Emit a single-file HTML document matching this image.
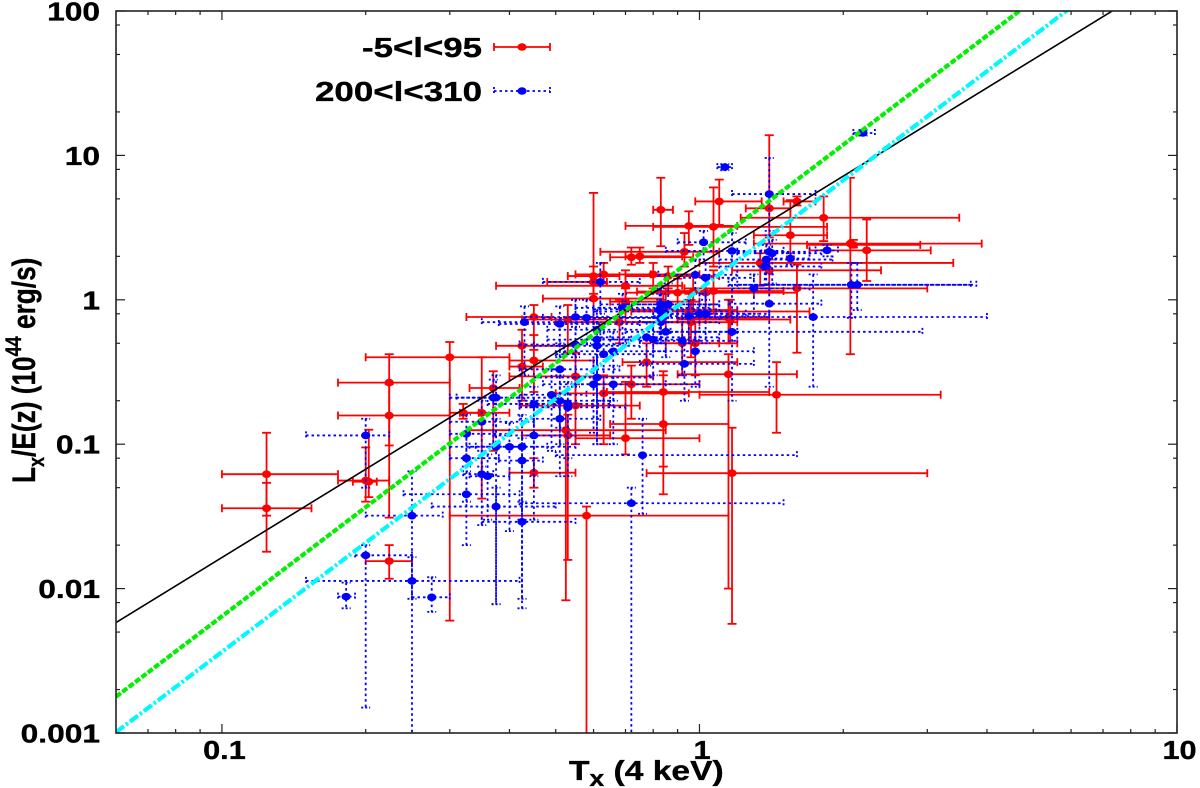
<!DOCTYPE html>
<html lang="en">
<head>
<meta charset="utf-8">
<title>Lx/E(z) versus Tx scatter plot</title>
<style>
html,body{margin:0;padding:0;background:#fff;}
svg{display:block;}
text{font-family:"Liberation Sans",sans-serif;font-weight:bold;fill:#000;stroke:#000;stroke-width:0.35;}
</style>
</head>
<body>
<svg id="chart" xmlns="http://www.w3.org/2000/svg" width="1200" height="788" viewBox="0 0 1200 788">
  <defs><clipPath id="plot-clip"><rect x="116" y="11" width="1061" height="722"/></clipPath></defs>
  <rect x="0" y="0" width="1200" height="788" fill="#fff"/>
  <g id="ticks"></g>
  <g id="tick-labels"></g>
  <g id="marks" clip-path="url(#plot-clip)"></g>
  <rect x="116" y="11" width="1061" height="722" fill="none" stroke="#222" stroke-width="1.6"/>
  <text transform="translate(35,483) rotate(-90) scale(0.82,1)" font-size="32">L<tspan font-size="22" dy="9">x</tspan><tspan dy="-9">/E(z) (10</tspan><tspan font-size="22" dy="-14">44</tspan><tspan dy="14"> erg/s)</tspan></text>
  <text transform="translate(569,780) scale(1.2,1)" font-size="28">T<tspan font-size="22" dy="6">x</tspan><tspan dy="-6"> (4 keV)</tspan></text>
  <g>
    <text x="482" y="57" text-anchor="end" font-size="28" textLength="120" lengthAdjust="spacingAndGlyphs">-5&lt;l&lt;95</text>
    <text x="482" y="101" text-anchor="end" font-size="28" textLength="167" lengthAdjust="spacingAndGlyphs">200&lt;l&lt;310</text>
    <g stroke="#ff0000" stroke-width="1.8" fill="#ff0000">
      <line x1="494" y1="47" x2="550" y2="47"/><line x1="494" y1="43" x2="494" y2="51"/><line x1="550" y1="43" x2="550" y2="51"/>
      <ellipse cx="522" cy="47" rx="4.6" ry="3.8" stroke="none"/>
    </g>
    <g stroke="#0000ff" stroke-width="1.8" fill="#0000ff">
      <line x1="494" y1="91" x2="550" y2="91" stroke-dasharray="2.5,3"/><line x1="494" y1="87" x2="494" y2="95" stroke-dasharray="2,2"/><line x1="550" y1="87" x2="550" y2="95" stroke-dasharray="2,2"/>
      <ellipse cx="522" cy="91" rx="4.6" ry="3.8" stroke="none"/>
    </g>
  </g>
</svg>
<script>
// Tick values
const xMajorTicks = [0.1, 1, 10];
const xMinorTicks = [0.07, 0.08, 0.09, 0.2, 0.3, 0.4, 0.5, 0.6, 0.7, 0.8, 0.9, 2, 3, 4, 5, 6, 7, 8, 9];
const xTickLabels = ["0.1", "1", "10"];
const yMajorTicks = [0.001, 0.01, 0.1, 1, 10, 100];
const yMinorTicks = [0.002, 0.005, 0.008, 0.02, 0.05, 0.08, 0.2, 0.5, 0.8, 2, 5, 8, 20, 50, 80];
const yTickLabels = ["0.001", "0.01", "0.1", "1", "10", "100"];

// Axis domain
const xDomain = [0.06, 10];
const yDomain = [0.001, 100];

// Red series (-5<l<95): temperature, luminosity and error bar limits
const redT    = [.124,.124,.224,.224,.3,.2,.203,.224,.32,.35,.37,.425,.425,.45,.45,.53,.55,.6,.6,.63,.6,.7,.7,.72,.75,.8,.86,.93,.9,.97,1.03,1.07,.92,.98,.775,1.15,1.15,.72,.84,.63,.55,.525,.53,.7,.84,.45,.58,1.17,1.45,.83,.95,1.07,1.1,1.4,1.6,1.55,1.82,2.07,2.1,2.24,1.6,1.34,1.4,.85,.68,.95,.96,1.16];
const redL    = [.062,.036,.267,.158,.4,.056,.055,.0155,.165,.165,.245,.48,.345,.38,.76,.73,.295,1.46,1.02,1.5,1.33,1.25,.97,1.97,2,1.5,1.46,2.15,1.12,1.14,1.12,1.15,.5,.5,.37,.305,.75,.26,.23,.225,.185,.125,.115,.11,.138,.0635,.032,.063,.22,4.2,3.25,3.2,4.8,4.3,4.8,2.8,3.7,2.45,2.4,2.2,1.2,1.8,1.6,.85,.7,.83,.7,.73];
const redTLo  = [.1,.1,.175,.175,.2,.175,.188,.2,.315,.3,.33,.375,.4,.4,.325,.425,.4,.53,.47,.55,.48,.375,.65,.65,.7,.62,.7,.62,.7,.74,.85,.8,.8,.85,.69,.9,.9,.6,.64,.5,.42,.33,.425,.55,.65,.4,.3,.775,1,.8,.7,.8,.98,1.25,1.5,1.3,1.22,1.3,1.68,1.7,.93,1,1.17,.7,.5,.72,.68,.9];
const redTHi  = [.175,.154,.3,.3,.4,.224,.211,.25,.345,.4,.42,.55,.47,.6,.49,.64,.8,.68,.84,.79,.64,.92,1,.97,.92,1,1.1,1.1,1.3,1.4,1.6,1.5,1.2,1.1,1.2,1.6,1.4,1,1.4,.95,.75,.85,.65,1,1.15,.55,1.15,3,3.2,.88,1.2,1.85,1.35,1.55,1.75,1.85,3.5,3.9,2.9,3.05,3,3.4,2.4,1.2,1,1.7,1.2,1.55];
const redLLo  = [.032,.018,.098,.031,.006,.04,.043,.0117,.15,.042,.09,.35,.2,.23,.45,.43,.19,1.1,.7,1.3,1,.95,.7,1.75,1.8,1.2,1.2,1.7,.7,.85,.7,.8,.3,.3,.25,.01,.5,.15,.07,.1,.1,.0083,.0158,.085,.045,.05,.0004,.0057,.12,2.35,2.4,1.7,3.3,2.7,4.5,2,2.55,.42,2.3,1.35,.43,1.25,1.2,.6,.5,.5,.4,.5];
const redLHi  = [.12,.054,.42,.26,.51,.095,.126,.02,.19,.4,.32,.62,.48,.57,.92,.92,.43,5.5,1.3,1.8,1.7,1.6,1.2,2.3,2.3,1.8,1.7,2.9,1.4,1.5,1.4,1.6,.7,.7,.5,.42,1,.35,.32,.3,.26,.2,.16,.27,.3,.08,.037,.13,.37,7,4.1,6,6.8,13.8,5.2,4.9,5.2,7,2.6,3.6,1.75,2.1,1.9,1.1,1,1.1,1,1];

// Blue series (200<l<310): temperature, luminosity and error bar limits
const blueT   = [.2,.2,.25,.25,.275,.182,.325,.325,.325,.35,.35,.36,.375,.375,.375,.4,.425,.425,.425,.45,.43,.51,.55,.58,.69,.62,.825,.83,.83,.86,.83,.83,.85,.92,.98,1.03,.95,1,1.03,.98,.93,1.17,.775,.8,.61,.61,.61,.55,.66,.63,.51,.61,.6,.66,.37,.49,.51,.53,.53,.45,.51,.76,.72,1.4,1.13,2.2,1.02,1.17,1.4,1.42,1.38,1.37,1.85,1.55,2.08,2.14,1.3,1.4,1.73];
const blueL   = [.115,.017,.032,.0113,.0087,.0088,.118,.08,.045,.143,.062,.06,.21,.096,.037,.096,.096,.077,.029,.115,.7,.68,.76,.75,.88,1.33,.86,.93,.83,.93,.75,.7,.6,.52,1.49,1.42,.77,.8,.8,.44,.36,.6,.55,.53,.62,.53,.48,.49,.44,.42,.33,.29,.26,.26,.21,.22,.2,.19,.18,.19,.15,.084,.039,5.4,8.3,14.3,2.5,2.18,2.15,2.1,1.9,1.7,2.2,1.93,1.27,1.27,1.2,.94,.76];
const blueTLo = [.15,.19,.2,.15,.25,.175,.3,.3,.24,.3,.32,.33,.3,.3,.275,.34,.33,.38,.35,.37,.35,.38,.43,.47,.55,.47,.6,.62,.6,.7,.6,.65,.7,.75,.82,.9,.8,.85,.87,.8,.75,.87,.62,.65,.48,.48,.45,.42,.52,.5,.42,.45,.47,.55,.31,.42,.42,.42,.42,.36,.42,.5,.42,1.17,1.09,2.1,.9,.85,1.2,1.2,1.1,1.1,1.75,1.4,1.15,1.2,1.17,1.15,.95];
const blueTHi = [.224,.25,.29,.42,.3,.19,.4,.38,.42,.45,.37,.4,.5,.43,.5,.48,.55,.47,.55,.55,.6,.75,.8,.85,1.05,.75,1.1,1.1,1.2,1.1,1.2,1.1,1.2,1.2,1.2,1.3,1.4,1.25,1.4,1.3,1.3,2.93,1.1,1,.8,.72,.75,.7,.85,.8,.68,.8,.85,1,.43,.58,.65,.65,.7,.5,.62,1.6,1.5,1.75,1.17,2.33,1.25,1.5,1.7,1.8,1.9,1.8,1.95,1.7,3.8,3.7,1.7,1.8,4];
const blueLLo = [.05,.0015,.0008,.0085,.0069,.0073,.07,.04,.02,.07,.0275,.03,.1,.0078,.0078,.025,.0085,.03,.0073,.03,.3,.4,.4,.5,.5,.8,.5,.5,.6,.7,.5,.5,.4,.3,1.1,1,.5,.6,.5,.25,.2,.2,.35,.3,.35,.1,.2,.25,.2,.2,.13,.1,.12,.1,.1,.09,.1,.08,.06,.06,.06,.033,.0005,3,7.9,13.7,1.9,1.7,1.5,1.3,1.2,1.2,2,1.75,.75,.85,.8,.25,.25];
const blueLHi = [.15,.02,.065,.0165,.012,.011,.16,.12,.065,.2,.09,.085,.3,.15,.05,.14,.16,.11,.04,.18,.9,.9,1,1,1.1,1.8,1.2,1.2,1.1,1.3,1,.95,.85,.75,1.9,1.8,1,1.1,1.1,.6,.5,1.4,.7,.7,.85,.7,.65,.65,.6,.6,.5,.4,.38,.35,.28,.33,.3,.27,.25,.25,.2,.15,.05,9.6,8.7,15,3,2.9,2.8,2.6,2.4,2.2,2.4,2.1,1.8,1.8,1.5,1.2,1.5];

// Power-law fits L = norm * T^slope
const fitNorms  = [1.76, 2.08, 1.18];
const fitSlopes = [2.03, 2.51, 2.51];

const SVG_NS = "http://www.w3.org/2000/svg";
const plotLeft = 116, plotRight = 1177, plotTop = 11, plotBottom = 733;

function xScale(t) {
  const a = Math.log10(xDomain[0]), b = Math.log10(xDomain[1]);
  return plotLeft + (Math.log10(t) - a) / (b - a) * (plotRight - plotLeft);
}
function yScale(l) {
  const a = Math.log10(yDomain[0]), b = Math.log10(yDomain[1]);
  return plotBottom - (Math.log10(l) - a) / (b - a) * (plotBottom - plotTop);
}
function make(tag, attrs, parent) {
  const el = document.createElementNS(SVG_NS, tag);
  for (const k in attrs) el.setAttribute(k, attrs[k]);
  parent.appendChild(el);
  return el;
}
const tickGroup = document.getElementById("ticks");
const labelGroup = document.getElementById("tick-labels");
const marks = document.getElementById("marks");

function drawXTick(v, len, name) {
  const x = xScale(v);
  const bottomTick = make("line", {x1: x, x2: x, y1: plotBottom, y2: plotBottom - len, stroke: "#222", "stroke-width": 1.2}, tickGroup);
  
  
  const topTick = make("line", {x1: x, x2: x, y1: plotTop, y2: plotTop + len, stroke: "#222", "stroke-width": 1.2}, tickGroup);
  
  
}
function drawYTick(v, len, name) {
  const y = yScale(v);
  const leftTick = make("line", {x1: plotLeft, x2: plotLeft + len, y1: y, y2: y, stroke: "#222", "stroke-width": 1.2}, tickGroup);
  
  
  const rightTick = make("line", {x1: plotRight, x2: plotRight - len, y1: y, y2: y, stroke: "#222", "stroke-width": 1.2}, tickGroup);
  
  
}
xMajorTicks.forEach(v => drawXTick(v, 9, 'x-major-tick'));
xMinorTicks.forEach(v => drawXTick(v, 4, 'x-minor-tick'));
yMajorTicks.forEach(v => drawYTick(v, 9, 'y-major-tick'));
yMinorTicks.forEach(v => drawYTick(v, 4, 'y-minor-tick'));

xMajorTicks.forEach((v, i) => {
  const label = make("text", {x: 0, y: 0, "font-size": 26, "text-anchor": "middle",
    transform: "translate(" + (xScale(v) + 2.5) + ",759) scale(1.18,1)"}, labelGroup);
  label.textContent = xTickLabels[i];
  
  
});
yMajorTicks.forEach((v, i) => {
  const label = make("text", {x: 0, y: 0, "font-size": 26, "text-anchor": "end",
    transform: "translate(100," + (yScale(v) + 9.5) + ") scale(1.22,1)"}, labelGroup);
  label.textContent = yTickLabels[i];
  
  
});

function drawSeries(seriesName, color, width, dash, capDash, T, L, TLo, THi, LLo, LHi) {
  const group = make("g", {stroke: color, "stroke-width": width, fill: color}, marks);
  
  
  T.forEach((t, i) => {
    const cx = xScale(t), cy = yScale(L[i]);
    const xa = xScale(TLo[i]), xb = xScale(THi[i]);
    const ya = yScale(LHi[i]), yb = yScale(LLo[i]);
    const point = make("g", {}, group);
    
    
    make("line", {x1: xa, x2: xb, y1: cy, y2: cy, "stroke-dasharray": dash}, point);
    make("line", {x1: cx, x2: cx, y1: ya, y2: yb, "stroke-dasharray": dash}, point);
    make("line", {x1: xa, x2: xa, y1: cy - 4, y2: cy + 4, "stroke-dasharray": capDash}, point);
    make("line", {x1: xb, x2: xb, y1: cy - 4, y2: cy + 4, "stroke-dasharray": capDash}, point);
    make("line", {x1: cx - 4.5, x2: cx + 4.5, y1: ya, y2: ya, "stroke-dasharray": capDash}, point);
    make("line", {x1: cx - 4.5, x2: cx + 4.5, y1: yb, y2: yb, "stroke-dasharray": capDash}, point);
  });
  T.forEach((t, i) => {
    const dot = make("ellipse", {cx: xScale(t), cy: yScale(L[i]), rx: 4.6, ry: 3.8, stroke: "none"}, group);
    
    
  });
}
drawSeries('red', '#ff0000', 1.8, 'none', 'none', redT, redL, redTLo, redTHi, redLLo, redLHi);
drawSeries('blue', '#0000ff', 1.8, '2.5,3', '2,2', blueT, blueL, blueTLo, blueTHi, blueLLo, blueLHi);

function fitLine(i, stroke, width, dash, name) {
  const tA = xDomain[0], tB = xDomain[1];
  const line = make("line", {
    x1: xScale(tA), y1: yScale(fitNorms[i] * Math.pow(tA, fitSlopes[i])),
    x2: xScale(tB), y2: yScale(fitNorms[i] * Math.pow(tB, fitSlopes[i])),
    stroke: stroke, "stroke-width": width, "stroke-dasharray": dash
  }, marks);
  
  
}
fitLine(0, '#000000', 1.6, 'none', 'black-fit-line');
fitLine(1, '#00f000', 4.2, '6,2', 'green-fit-line');
fitLine(2, '#00f8ff', 4.2, '10,2.5,2.5,2.5', 'cyan-fit-line');
</script>
</body>
</html>
